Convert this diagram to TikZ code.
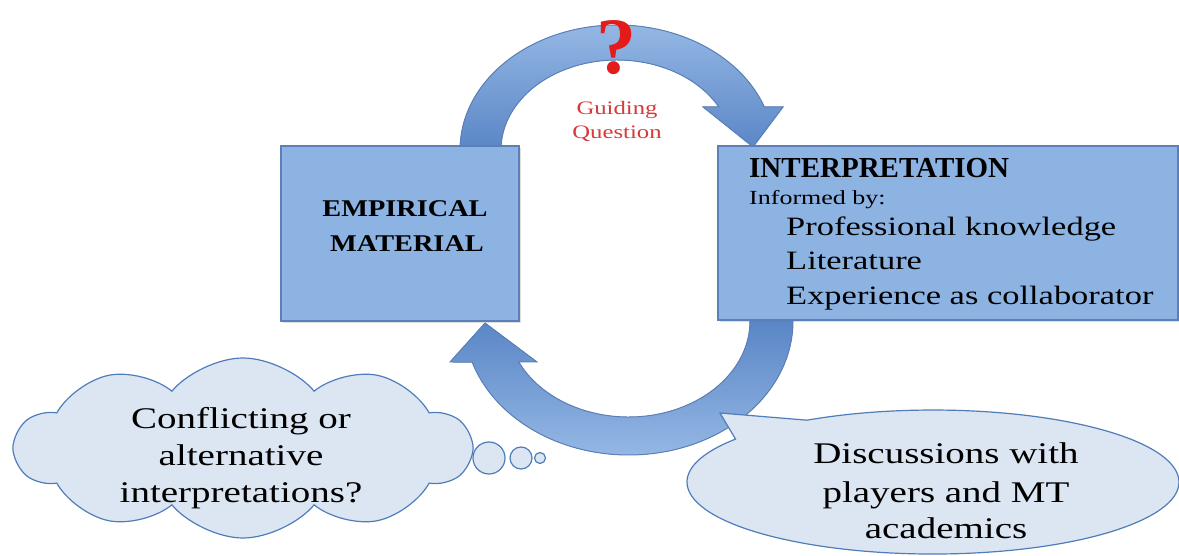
\documentclass[tikz,border=0pt]{standalone}
\usepackage{fontspec}
\setmainfont{Liberation Serif}
\newfontfamily\wide{Liberation Serif}[FakeStretch=1.3]
\newfontfamily\bwide{Liberation Serif}[FakeStretch=1.18]
\usetikzlibrary{shapes.symbols,shadows}
\definecolor{boxfill}{HTML}{8DB3E2}
\definecolor{boxline}{HTML}{5B80B8}
\definecolor{arrdark}{HTML}{5A86C6}
\definecolor{arrlight}{HTML}{94B7E4}
\definecolor{cloudfill}{HTML}{DCE6F2}
\definecolor{cloudline}{HTML}{4F7DBA}
\definecolor{qred}{HTML}{E31B1B}
\definecolor{gred}{HTML}{D63A3A}
\tikzset{
  box/.style={draw=boxline, line width=1.2pt, fill=boxfill, inner sep=0pt,
    drop shadow={shadow xshift=1.5pt, shadow yshift=-2pt, opacity=0.25}},
  arrowband/.style={draw=boxline, line width=1pt},
  lbl/.style={inner sep=0pt, anchor=base},
  lblw/.style={inner sep=0pt, anchor=base west},
  bubble/.style={draw=cloudline, fill=cloudfill, line width=1.2pt},
  bigtxt/.style={font=\wide\fontsize{30}{37}\selectfont},
  listtxt/.style={font=\wide\fontsize{26.5}{35}\selectfont},
}
\begin{document}
\begin{tikzpicture}[x=1pt,y=1pt]
\fill[white] (0,0) rectangle (1179,555);
\useasboundingbox (0,0) rectangle (1179,555);

% top curved arrow (empirical -> interpretation)
\filldraw[arrowband, top color=arrlight, bottom color=arrdark]
  (460,405) arc[start angle=180, end angle=20.12, x radius=157, y radius=125]
  -- (783,448) -- (753,408) -- (703,448) -- (718.9,448)
  arc[start angle=28.54, end angle=180, x radius=116, y radius=90] -- cycle;

% bottom curved arrow (interpretation -> empirical)
\filldraw[arrowband, top color=arrdark, bottom color=arrlight]
  (793,234) arc[start angle=0, end angle=-162.18, x radius=164.4, y radius=134]
  -- (450,193) -- (485,232) -- (537,193) -- (518.8,193)
  arc[start angle=-154.72, end angle=0, x radius=121.4, y radius=96] -- cycle;

% boxes
\node[box, minimum width=238pt, minimum height=175pt] (emp) at (400,321.5) {};
\node[box, minimum width=460pt, minimum height=174pt] (interp) at (948,322) {};

% box texts
\node[lbl, font=\bwide\bfseries\fontsize{24}{30}\selectfont] (empA) at (405,338) {EMPIRICAL};
\node[lbl, font=\bwide\bfseries\fontsize{24}{30}\selectfont] (empB) at (407,303) {MATERIAL};

\node[lblw, font=\bfseries\fontsize{29}{34}\selectfont] (intA) at (749,377) {INTERPRETATION};
\node[lblw, font=\wide\fontsize{20}{24}\selectfont] (intB) at (749,350) {Informed by:};
\node[lblw, listtxt] (intC) at (786,319) {Professional knowledge};
\node[lblw, listtxt] (intD) at (786,285) {Literature};
\node[lblw, listtxt] (intE) at (786,250) {Experience as collaborator};

% guiding question
\node[lbl, text=qred, font=\bfseries\fontsize{80}{80}\selectfont] (qmark) at (616,481) {?};
\node[lbl, text=gred, font=\wide\fontsize{19}{25}\selectfont] (gq1) at (617,440) {Guiding};
\node[lbl, text=gred, font=\wide\fontsize{19}{25}\selectfont] (gq2) at (617,416) {Question};

% thought cloud
\node[cloud, cloud puffs=10, cloud puff arc=100, aspect=2.5, bubble,
      minimum width=455pt, minimum height=180pt, inner sep=0pt] (cloud) at (243,107) {};
\node[circle, bubble, minimum size=32pt, inner sep=0pt] (b1) at (489,97) {};
\node[circle, bubble, minimum size=22pt, inner sep=0pt] (b2) at (521,97) {};
\node[circle, bubble, minimum size=11pt, inner sep=0pt] (b3) at (540,97) {};
\node[lbl, bigtxt] (c1) at (241,127) {Conflicting or};
\node[lbl, bigtxt] (c2) at (241,90) {alternative};
\node[lbl, bigtxt] (c3) at (241,53) {interpretations?};

% speech callout
\coordinate (ctip) at (720,142);
\filldraw[bubble]
  (735.5,115.9) arc[start angle=143.4, end angle=480.8, x radius=246, y radius=72]
  -- (ctip) -- cycle;
\node[lbl, bigtxt] (d1) at (946,92) {Discussions with};
\node[lbl, bigtxt] (d2) at (946,53) {players and MT};
\node[lbl, bigtxt] (d3) at (946,17) {academics};
\end{tikzpicture}
\end{document}
